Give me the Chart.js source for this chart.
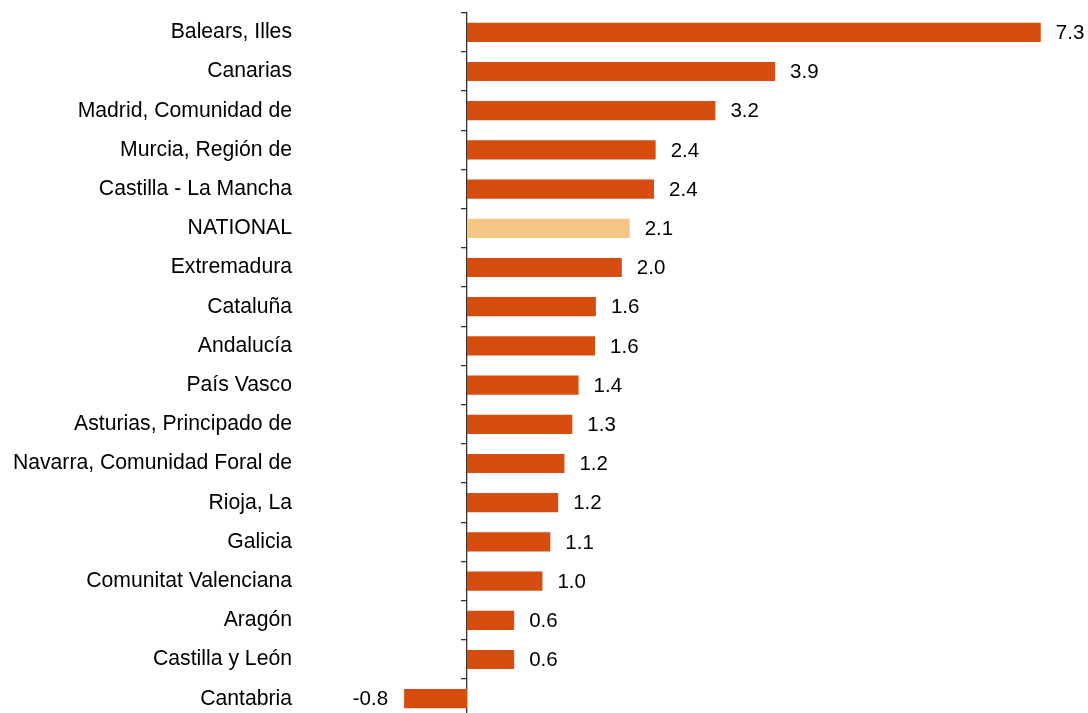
<!DOCTYPE html>
<html>
<head>
<meta charset="utf-8">
<script src="https://cdn.jsdelivr.net/npm/chart.js@4/dist/chart.umd.min.js"></script>
<style>
  html, body { margin: 0; padding: 0; background: #fff; overflow: hidden; }
  canvas { display: block; }
</style>
</head>
<body>
<canvas id="myChart" width="1088" height="725"></canvas>
<script>
// regions, top to bottom
const regions = [
  'Balears, Illes', 'Canarias', 'Madrid, Comunidad de', 'Murcia, Región de',
  'Castilla - La Mancha', 'NATIONAL', 'Extremadura', 'Cataluña', 'Andalucía',
  'País Vasco', 'Asturias, Principado de', 'Navarra, Comunidad Foral de',
  'Rioja, La', 'Galicia', 'Comunitat Valenciana', 'Aragón', 'Castilla y León',
  'Cantabria'
];
const values = [
  7.30, 3.92, 3.16, 2.40, 2.38, 2.07, 1.97, 1.64, 1.63,
  1.42, 1.34, 1.24, 1.16, 1.06, 0.96, 0.60, 0.60, -0.80
];
const highlight = 'NATIONAL';

const barColor = '#D64D0F';
const nationalColor = '#F5C584';
const fontFamily = '"Liberation Sans", Arial, sans-serif';

// draws the value next to each bar
const valueLabels = {
  id: 'valueLabels',
  afterDatasetsDraw(chart) {
    const ctx = chart.ctx;
    const meta = chart.getDatasetMeta(0);
    ctx.save();
    ctx.font = '20.5px ' + fontFamily;
    ctx.fillStyle = '#000';
    ctx.textBaseline = 'middle';
    meta.data.forEach((bar, i) => {
      const v = values[i];
      if (v < 0) {
        ctx.textAlign = 'right';
        ctx.fillText(v.toFixed(1), bar.x - 16, bar.y + 1);
      } else {
        ctx.textAlign = 'left';
        ctx.fillText(v.toFixed(1), bar.x + 15, bar.y + 1);
      }
    });
    ctx.restore();
  }
};

new Chart(document.getElementById('myChart'), {
  type: 'bar',
  data: {
    labels: regions,
    datasets: [{
      data: values,
      backgroundColor: regions.map(r => r === highlight ? nationalColor : barColor),
      borderWidth: 0,
      barPercentage: 0.49,
      categoryPercentage: 1,
      clip: false
    }]
  },
  options: {
    indexAxis: 'y',
    responsive: false,
    devicePixelRatio: 1,
    animation: false,
    layout: { padding: { left: 0, right: 31.5, top: 12.7, bottom: 6.7 } },
    plugins: { legend: { display: false }, tooltip: { enabled: false } },
    scales: {
      x: {
        display: false,
        min: 0,
        max: 7.5
      },
      y: {
        // fixed axis width, and no extra top/bottom room from the big label padding
        afterFit: (scale) => {
          scale.width = 467;
          scale.paddingTop = 0;
          scale.paddingBottom = 0;
        },
        border: { display: true, color: '#333', width: 1.3 },
        grid: {
          drawOnChartArea: false,
          drawTicks: true,
          tickLength: 6,
          color: '#333',
          lineWidth: 1.3,
          offset: true
        },
        ticks: {
          color: '#000',
          padding: 169,
          autoSkip: false,
          font: { family: fontFamily, size: 21.2 }
        }
      }
    }
  },
  plugins: [valueLabels]
});
</script>
</body>
</html>
